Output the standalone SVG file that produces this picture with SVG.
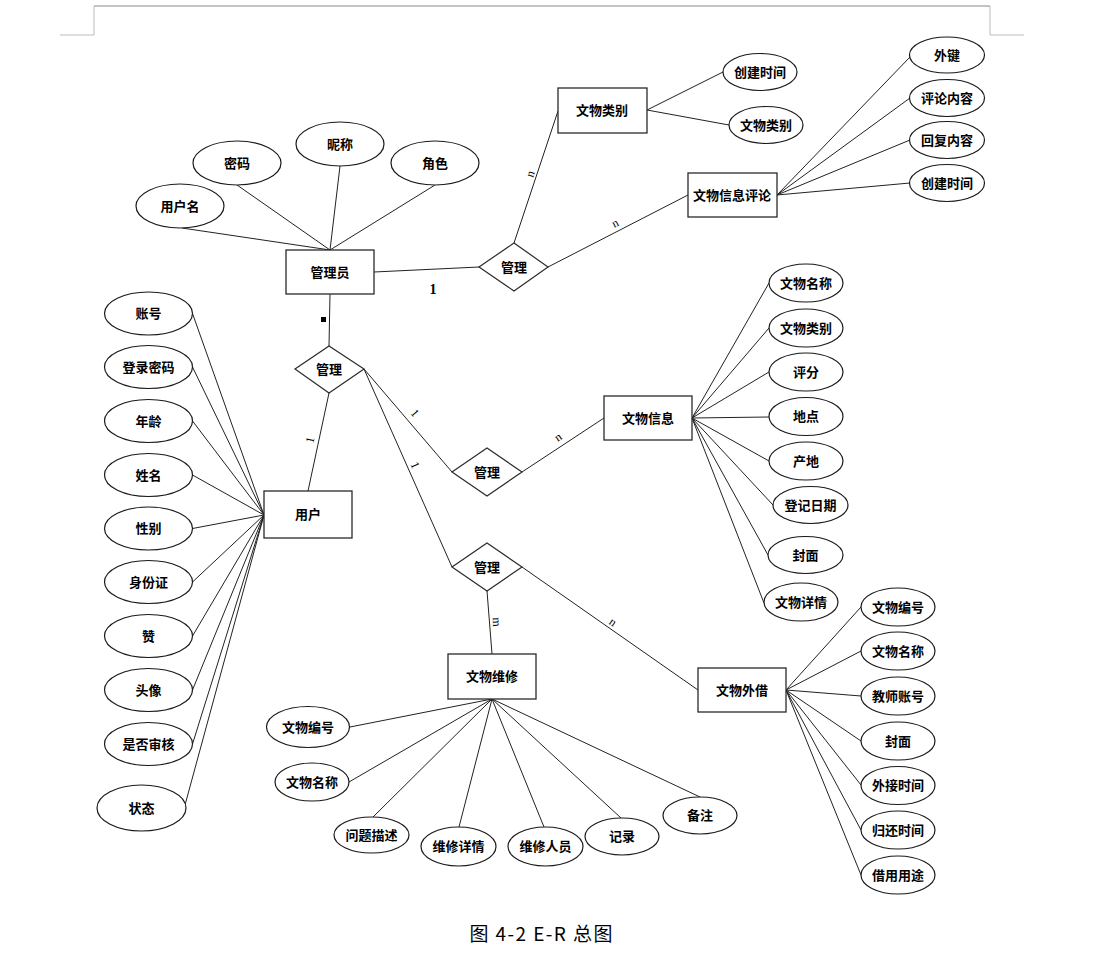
<svg xmlns="http://www.w3.org/2000/svg" width="1098" height="967" viewBox="0 0 1098 967">
<style>
.e{fill:#fff;stroke:#1a1a1a;stroke-width:1.2}
.r{fill:#fff;stroke:#2a2a2a;stroke-width:1.3}
.d{fill:#fff;stroke:#2a2a2a;stroke-width:1.2}
#connectors line{stroke:#222;stroke-width:1}
.t{font-family:"Noto Sans CJK SC","Noto Sans",sans-serif;font-size:13px;font-weight:bold;text-anchor:middle;dominant-baseline:central;fill:#000;transform:translateY(-1px)}
.lb{font-family:"Liberation Serif",serif;font-size:12px;text-anchor:middle;dominant-baseline:central;fill:#000}
.frame{stroke:#999;stroke-width:1;fill:none}
</style>
<rect width="1098" height="967" fill="#fff"/>
<g id="page-frame">
<line class="frame" x1="94" y1="6" x2="990" y2="6" style="stroke:#888"/>
<polyline class="frame" points="94,6 94,35 60,35" style="stroke:#bbb"/>
<polyline class="frame" points="990,6 990,35 1024,35" style="stroke:#bbb"/>
</g>
<g id="connectors">
<line x1="182" y1="228" x2="330" y2="250"/>
<line x1="237" y1="185" x2="330" y2="250"/>
<line x1="340" y1="166" x2="330" y2="250"/>
<line x1="435" y1="185" x2="330" y2="250"/>
<line x1="374" y1="272" x2="479" y2="267"/>
<line x1="514" y1="243" x2="558" y2="111"/>
<line x1="548" y1="267" x2="688" y2="195"/>
<line x1="647" y1="110" x2="723" y2="72"/>
<line x1="647" y1="110" x2="729" y2="125"/>
<line x1="777" y1="195" x2="910" y2="57"/>
<line x1="777" y1="195" x2="910" y2="98"/>
<line x1="777" y1="195" x2="910" y2="140"/>
<line x1="777" y1="195" x2="910" y2="183"/>
<line x1="330" y1="294" x2="329" y2="346"/>
<line x1="329" y1="393" x2="308" y2="491"/>
<line x1="364" y1="369" x2="452" y2="472"/>
<line x1="364" y1="369" x2="452" y2="567"/>
<line x1="522" y1="472" x2="604" y2="418"/>
<line x1="487" y1="591" x2="492" y2="654"/>
<line x1="522" y1="567" x2="698" y2="690"/>
<line x1="192.5" y1="313.5" x2="264" y2="515"/>
<line x1="192.5" y1="367" x2="264" y2="515"/>
<line x1="192.5" y1="421" x2="264" y2="515"/>
<line x1="192.5" y1="475" x2="264" y2="515"/>
<line x1="192.5" y1="528.5" x2="264" y2="515"/>
<line x1="192.5" y1="582" x2="264" y2="515"/>
<line x1="192.5" y1="636" x2="264" y2="515"/>
<line x1="192.5" y1="690" x2="264" y2="515"/>
<line x1="192.5" y1="744" x2="264" y2="515"/>
<line x1="185" y1="805" x2="264" y2="515"/>
<line x1="692" y1="418" x2="769" y2="283"/>
<line x1="692" y1="418" x2="769" y2="328"/>
<line x1="692" y1="418" x2="769" y2="372"/>
<line x1="692" y1="418" x2="769" y2="417"/>
<line x1="692" y1="418" x2="769" y2="461"/>
<line x1="692" y1="418" x2="773" y2="505"/>
<line x1="692" y1="418" x2="768" y2="555"/>
<line x1="692" y1="418" x2="764" y2="603"/>
<line x1="492" y1="699" x2="350" y2="727"/>
<line x1="492" y1="699" x2="349" y2="782"/>
<line x1="492" y1="699" x2="373" y2="817"/>
<line x1="492" y1="699" x2="459" y2="827"/>
<line x1="492" y1="699" x2="544" y2="827"/>
<line x1="492" y1="699" x2="621" y2="818"/>
<line x1="492" y1="699" x2="700" y2="797"/>
<line x1="786" y1="690" x2="861" y2="607"/>
<line x1="786" y1="690" x2="861" y2="651"/>
<line x1="786" y1="690" x2="861" y2="696"/>
<line x1="786" y1="690" x2="861" y2="741"/>
<line x1="786" y1="690" x2="861" y2="785"/>
<line x1="786" y1="690" x2="861" y2="830"/>
<line x1="786" y1="690" x2="861" y2="875"/>
</g>
<g id="connector-labels">
<text class="lb" x="433" y="289" style="font-weight:bold;font-size:14px">1</text>
<rect x="321" y="317" width="5" height="5" fill="#000"/>
<text class="lb" x="530" y="174" transform="rotate(-72 530 174)">n</text>
<text class="lb" x="615" y="223" transform="rotate(-27 615 223)">n</text>
<text class="lb" x="310" y="440" transform="rotate(-78 310 440)">1</text>
<text class="lb" x="415" y="413" transform="rotate(50 415 413)">1</text>
<text class="lb" x="415" y="465" transform="rotate(66 415 465)">1</text>
<text class="lb" x="558" y="437" transform="rotate(-33 558 437)">n</text>
<text class="lb" x="497" y="622" transform="rotate(88 497 622)">m</text>
<text class="lb" x="613" y="622" transform="rotate(35 613 622)">n</text>
</g>
<g id="admin"><rect class="r" x="286" y="250" width="88" height="44"/><text class="t" x="330" y="272">管理员</text></g>
<g id="admin-username"><ellipse class="e" cx="180" cy="206" rx="44" ry="22"/><text class="t" x="180" y="206">用户名</text></g>
<g id="admin-password"><ellipse class="e" cx="237" cy="163" rx="44" ry="22"/><text class="t" x="237" y="163">密码</text></g>
<g id="admin-nickname"><ellipse class="e" cx="340" cy="144" rx="44" ry="22"/><text class="t" x="340" y="144">昵称</text></g>
<g id="admin-role"><ellipse class="e" cx="435" cy="163" rx="44" ry="22"/><text class="t" x="435" y="163">角色</text></g>
<g id="rel-top"><polygon class="d" points="479,267 514,243 548,267 514,291"/><text class="t" x="514" y="267">管理</text></g>
<g id="category"><rect class="r" x="558" y="88" width="89" height="45"/><text class="t" x="602" y="110">文物类别</text></g>
<g id="category-ctime"><ellipse class="e" cx="760" cy="72" rx="37" ry="18.5"/><text class="t" x="760" y="72">创建时间</text></g>
<g id="category-name"><ellipse class="e" cx="766" cy="125" rx="37" ry="18.5"/><text class="t" x="766" y="125">文物类别</text></g>
<g id="comment"><rect class="r" x="688" y="173" width="89" height="44"/><text class="t" x="732" y="195">文物信息评论</text></g>
<g id="comment-fk"><ellipse class="e" cx="947" cy="55" rx="37.5" ry="18"/><text class="t" x="947" y="55">外键</text></g>
<g id="comment-content"><ellipse class="e" cx="947" cy="98" rx="37.5" ry="18.5"/><text class="t" x="947" y="98">评论内容</text></g>
<g id="comment-reply"><ellipse class="e" cx="947" cy="140" rx="37.5" ry="18.5"/><text class="t" x="947" y="140">回复内容</text></g>
<g id="comment-ctime"><ellipse class="e" cx="947" cy="183" rx="37.5" ry="18.5"/><text class="t" x="947" y="183">创建时间</text></g>
<g id="rel-user"><polygon class="d" points="295,369 329,346 364,369 329,393"/><text class="t" x="329" y="369">管理</text></g>
<g id="user"><rect class="r" x="264" y="491" width="88" height="47"/><text class="t" x="308" y="514">用户</text></g>
<g id="user-account"><ellipse class="e" cx="148.5" cy="313.5" rx="44" ry="21.5"/><text class="t" x="148.5" y="313.5">账号</text></g>
<g id="user-password"><ellipse class="e" cx="148.5" cy="367" rx="44" ry="21.5"/><text class="t" x="148.5" y="367">登录密码</text></g>
<g id="user-age"><ellipse class="e" cx="148.5" cy="421" rx="44" ry="21.5"/><text class="t" x="148.5" y="421">年龄</text></g>
<g id="user-name"><ellipse class="e" cx="148.5" cy="475" rx="44" ry="21.5"/><text class="t" x="148.5" y="475">姓名</text></g>
<g id="user-gender"><ellipse class="e" cx="148.5" cy="528.5" rx="44" ry="21.5"/><text class="t" x="148.5" y="528.5">性别</text></g>
<g id="user-id"><ellipse class="e" cx="148.5" cy="582" rx="44" ry="21.5"/><text class="t" x="148.5" y="582">身份证</text></g>
<g id="user-like"><ellipse class="e" cx="148.5" cy="636" rx="44" ry="21.5"/><text class="t" x="148.5" y="636">赞</text></g>
<g id="user-avatar"><ellipse class="e" cx="148.5" cy="690" rx="44" ry="21.5"/><text class="t" x="148.5" y="690">头像</text></g>
<g id="user-audit"><ellipse class="e" cx="148.5" cy="744" rx="44" ry="21.5"/><text class="t" x="148.5" y="744">是否审核</text></g>
<g id="user-status"><ellipse class="e" cx="141.5" cy="808" rx="44.5" ry="23"/><text class="t" x="141.5" y="808">状态</text></g>
<g id="rel-info"><polygon class="d" points="452,472 487,448 522,472 487,496"/><text class="t" x="487" y="472">管理</text></g>
<g id="info"><rect class="r" x="604" y="396" width="88" height="44"/><text class="t" x="648" y="418">文物信息</text></g>
<g id="info-name"><ellipse class="e" cx="806" cy="283" rx="37" ry="19"/><text class="t" x="806" y="283">文物名称</text></g>
<g id="info-category"><ellipse class="e" cx="806" cy="328" rx="37" ry="19"/><text class="t" x="806" y="328">文物类别</text></g>
<g id="info-score"><ellipse class="e" cx="806" cy="372" rx="37" ry="19"/><text class="t" x="806" y="372">评分</text></g>
<g id="info-place"><ellipse class="e" cx="806" cy="416.5" rx="37" ry="19"/><text class="t" x="806" y="416.5">地点</text></g>
<g id="info-origin"><ellipse class="e" cx="806" cy="461" rx="37" ry="19"/><text class="t" x="806" y="461">产地</text></g>
<g id="info-date"><ellipse class="e" cx="810.5" cy="505" rx="37.5" ry="18.5"/><text class="t" x="810.5" y="505">登记日期</text></g>
<g id="info-cover"><ellipse class="e" cx="805.5" cy="555" rx="37.5" ry="18.5"/><text class="t" x="805.5" y="555">封面</text></g>
<g id="info-detail"><ellipse class="e" cx="801" cy="602" rx="37" ry="19"/><text class="t" x="801" y="602">文物详情</text></g>
<g id="rel-bottom"><polygon class="d" points="452,567 487,543 522,567 487,591"/><text class="t" x="487" y="567">管理</text></g>
<g id="repair"><rect class="r" x="448" y="654" width="88" height="45"/><text class="t" x="492" y="676">文物维修</text></g>
<g id="repair-no"><ellipse class="e" cx="308" cy="727" rx="41.5" ry="20.5"/><text class="t" x="308" y="727">文物编号</text></g>
<g id="repair-name"><ellipse class="e" cx="312" cy="782" rx="37" ry="19"/><text class="t" x="312" y="782">文物名称</text></g>
<g id="repair-problem"><ellipse class="e" cx="371.5" cy="835" rx="37.5" ry="18"/><text class="t" x="371.5" y="835">问题描述</text></g>
<g id="repair-detail"><ellipse class="e" cx="458.5" cy="846.5" rx="37.5" ry="19.5"/><text class="t" x="458.5" y="846.5">维修详情</text></g>
<g id="repair-staff"><ellipse class="e" cx="545.5" cy="846.5" rx="37.5" ry="19.5"/><text class="t" x="545.5" y="846.5">维修人员</text></g>
<g id="repair-record"><ellipse class="e" cx="622" cy="836.5" rx="37" ry="18.5"/><text class="t" x="622" y="836.5">记录</text></g>
<g id="repair-note"><ellipse class="e" cx="700" cy="815.5" rx="37" ry="18.5"/><text class="t" x="700" y="815.5">备注</text></g>
<g id="loan"><rect class="r" x="698" y="668" width="88" height="44"/><text class="t" x="742" y="690">文物外借</text></g>
<g id="loan-no"><ellipse class="e" cx="898" cy="607" rx="37" ry="19"/><text class="t" x="898" y="607">文物编号</text></g>
<g id="loan-name"><ellipse class="e" cx="898" cy="651" rx="37" ry="19"/><text class="t" x="898" y="651">文物名称</text></g>
<g id="loan-teacher"><ellipse class="e" cx="898" cy="696" rx="37" ry="19"/><text class="t" x="898" y="696">教师账号</text></g>
<g id="loan-cover"><ellipse class="e" cx="898" cy="741" rx="37" ry="19"/><text class="t" x="898" y="741">封面</text></g>
<g id="loan-out"><ellipse class="e" cx="898" cy="785.5" rx="37" ry="19"/><text class="t" x="898" y="785.5">外接时间</text></g>
<g id="loan-return"><ellipse class="e" cx="898" cy="830" rx="37" ry="19"/><text class="t" x="898" y="830">归还时间</text></g>
<g id="loan-purpose"><ellipse class="e" cx="898" cy="875" rx="37" ry="19"/><text class="t" x="898" y="875">借用用途</text></g>
<g id="caption"><text x="541" y="932" textLength="143" lengthAdjust="spacing" style="font-family:'Noto Sans CJK SC','Noto Sans',sans-serif;font-size:19px;text-anchor:middle;dominant-baseline:central;fill:#000">图 4-2 E-R 总图</text></g>
</svg>
